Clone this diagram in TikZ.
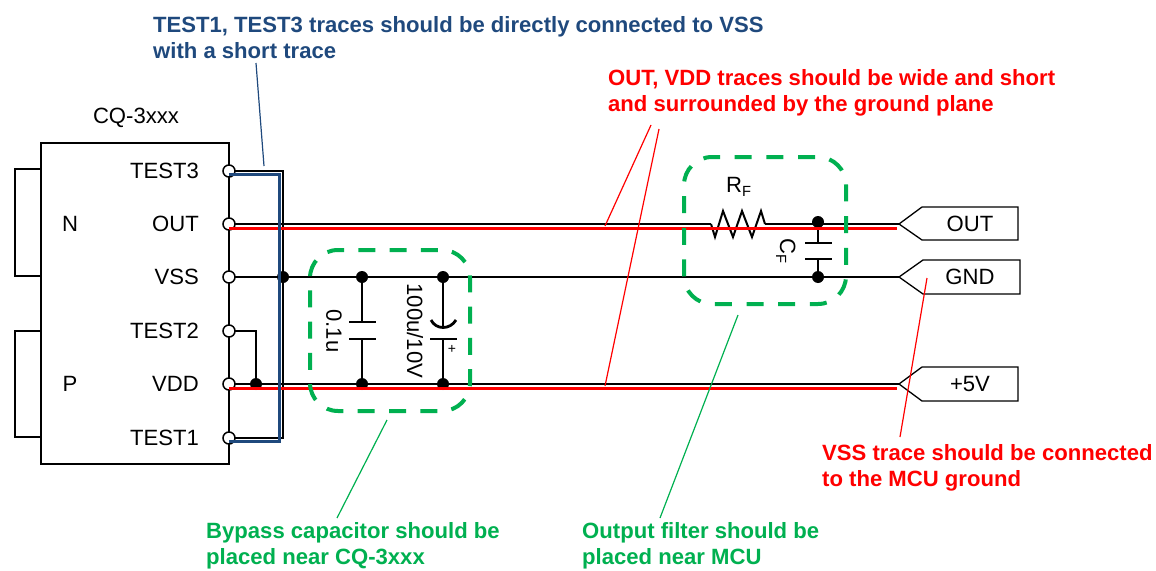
\documentclass[tikz,border=0pt]{standalone}
\usepackage{fontspec}
\setmainfont{Liberation Sans}
\definecolor{cblue}{HTML}{1F497D}
\definecolor{cgreen}{HTML}{00B050}
\definecolor{cred}{HTML}{FF0000}
\tikzset{
  wire/.style={black,line width=2pt},
  heavy/.style={black,line width=2.8pt},
  redtrace/.style={cred,line width=3pt},
  bluetrace/.style={cblue,line width=3pt},
  callred/.style={cred,line width=1.2pt},
  callgreen/.style={cgreen,line width=1.2pt},
  callblue/.style={cblue,line width=1.2pt},
  pin/.style={circle,draw=black,fill=white,line width=1.5pt,inner sep=0pt,minimum size=12pt},
  dot/.style={circle,fill=black,inner sep=0pt,minimum size=12pt},
  lbl/.style={font=\fontsize{22.1}{26}\selectfont,inner sep=0pt},
  note/.style={font=\fontsize{22.1}{26.7}\selectfont\bfseries,inner sep=0pt,align=left,anchor=north west},
  zone/.style={cgreen,line width=4pt,rounded corners=28pt},
  tag/.style={black,line width=1.3pt,fill=white},
}
\begin{document}
\begin{tikzpicture}[x=1pt,y=-1pt]
\useasboundingbox (0,0) rectangle (1156,570);
% package
\draw[heavy] (41,143) rectangle (229,464);
\draw[heavy] (41,169) -- (15,169) -- (15,276) -- (41,276);
\draw[heavy] (41,331) -- (15,331) -- (15,437) -- (41,437);
% anchors
\coordinate (p3) at (229,171);
\coordinate (po) at (229,224);
\coordinate (ps) at (229,277);
\coordinate (p2) at (229,331);
\coordinate (pd) at (229,384);
\coordinate (p1) at (229,438);
\coordinate (to) at (899,224);
\coordinate (tg) at (899,277);
\coordinate (tv) at (899,384);
% black wires
\draw[wire] (p3) -- (283,171) -- (283,438) -- (p1);
\draw[wire] (po) -- (711,224);
\draw[wire] (765,224) -- (to);
\draw[wire] (ps) -- (tg);
\draw[wire] (pd) -- (tv);
\draw[wire] (p2) -- (256,331) -- (256,384);
% resistor
\draw[wire,line join=miter] (711,224) -- (715,237) -- (723,211) -- (733,237) -- (742,211) -- (752,237) -- (761,211) -- (765,224);
% caps
\draw[wire] (362,277) -- (362,322) (362,339) -- (362,384);
\draw[heavy] (349,322) -- (376,322) (349,339) -- (376,339);
\draw[wire] (443,277) -- (443,328) (443,339) -- (443,384);
\draw[heavy] (430,339) -- (457,339);
\draw[heavy] (431,320) .. controls (436,330) and (450,330) .. (456,320);
\node[font=\fontsize{14}{14}\selectfont,inner sep=0pt] (plus) at (452,349) {+};
\draw[wire] (818,224) -- (818,243) (818,259) -- (818,277);
\draw[heavy] (805,243) -- (832,243) (805,259) -- (832,259);
% dots
\foreach \n/\p in {a/{283,277},b/{256,384},c/{362,277},d/{443,277},e/{362,384},f/{443,384},g/{818,222},h/{818,277}}
  \node[dot] (d\n) at (\p) {};
% pins
\foreach \n in {p3,po,ps,p2,pd,p1} \node[pin] at (\n) {};
% traces
\draw[redtrace] (229,228) -- (897,228);
\draw[redtrace] (229,388) -- (897,388);
\draw[bluetrace] (229,174.5) -- (279,174.5) -- (279,441.5) -- (229,441.5);
% labels
\node[lbl,anchor=east] (l3) at (199,171) {TEST3};
\node[lbl,anchor=east] (lo) at (199,224) {OUT};
\node[lbl,anchor=east] (ls) at (199,277) {VSS};
\node[lbl,anchor=east] (l2) at (199,331) {TEST2};
\node[lbl,anchor=east] (ld) at (199,384) {VDD};
\node[lbl,anchor=east] (l1) at (199,438) {TEST1};
\node[lbl] (n) at (70,224) {N};
\node[lbl] (pp) at (70,384) {P};
\node[lbl] (cq) at (136,118) {CQ-3xxx};
\node[lbl,rotate=-90] (c1) at (334,331) {0.1u};
\node[lbl,rotate=-90] (c2) at (415,331) {100u/10V};
\node[lbl,anchor=base west] (rf) at (726,192) {R\raisebox{-4pt}{\fontsize{14.7}{15}\selectfont F}};
\node[lbl,rotate=-90,anchor=base west] (cf) at (780,238) {C\raisebox{-4pt}{\fontsize{14.7}{15}\selectfont F}};
% tags
\draw[tag] (to) -- (922,207) -- (1018,207) -- (1018,240) -- (922,240) -- cycle;
\draw[tag] (tg) -- (923,260) -- (1020,260) -- (1020,294) -- (923,294) -- cycle;
\draw[tag] (tv) -- (922,367) -- (1018,367) -- (1018,401) -- (922,401) -- cycle;
\node[lbl] (to1) at (970,224) {OUT};
\node[lbl] (tg1) at (970,277) {GND};
\node[lbl] (tv1) at (970,384) {+5V};
% zones
\draw[zone,dash pattern=on 17pt off 14.26pt,dash phase=11pt] (338,250) -- (470,250) -- (470,411) -- (310,411) -- (310,250) -- (338,250);
\draw[zone,dash pattern=on 17pt off 14.67pt,dash phase=9pt] (712,157) -- (846,157) -- (846,304) -- (684,304) -- (684,157) -- (712,157);
% callouts
\coordinate (cb1) at (256,63);
\coordinate (cb2) at (264,166);
\draw[callblue] (cb1) -- (cb2);
\coordinate (r1) at (651,125); \coordinate (r2) at (605,226);
\coordinate (r3) at (659,129); \coordinate (r4) at (605,386);
\draw[callred] (r1) -- (r2);
\draw[callred] (r3) -- (r4);
\coordinate (r5) at (927,278); \coordinate (r6) at (900,437);
\draw[callred] (r5) -- (r6);
\coordinate (g1) at (387,420); \coordinate (g2) at (337,518);
\coordinate (g3) at (738,315); \coordinate (g4) at (660,518);
\draw[callgreen] (g1) -- (g2);
\draw[callgreen] (g3) -- (g4);
% notes
\node[note,text=cblue] (nb) at (153,16) {TEST1, TEST3 traces should be directly connected to VSS\\with a short trace};
\node[note,text=cred] (nr) at (608,69) {OUT, VDD traces should be wide and short\\and surrounded by the ground plane};
\node[note,text=cred] (nv) at (822,444) {VSS trace should be connected\\to the MCU ground};
\node[note,text=cgreen] (ng) at (206,522) {Bypass capacitor should be\\placed near CQ-3xxx};
\node[note,text=cgreen] (nf) at (582,522) {Output filter should be\\placed near MCU};
\end{tikzpicture}
\end{document}
